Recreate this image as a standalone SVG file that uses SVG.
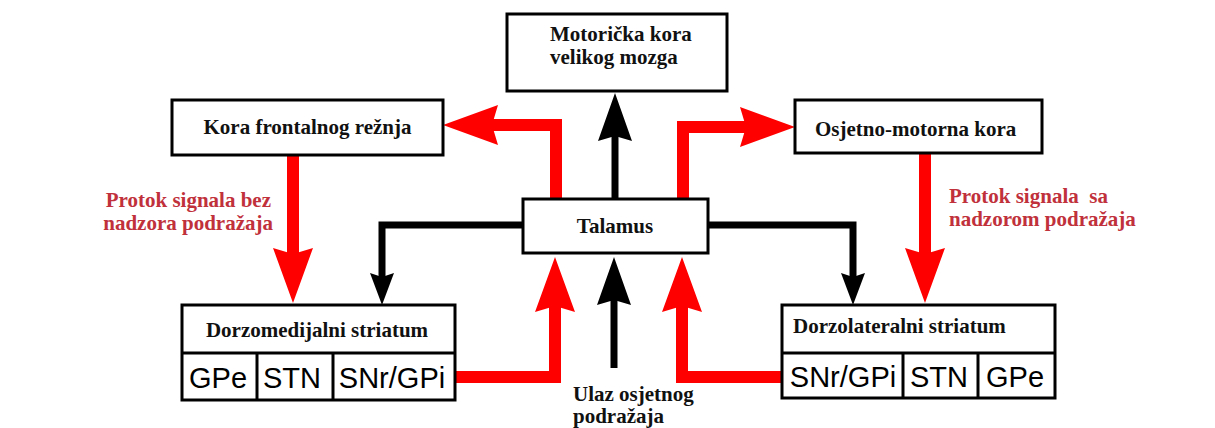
<svg xmlns="http://www.w3.org/2000/svg" width="1215" height="428" viewBox="0 0 1215 428">
<defs>
<style>
.box{fill:#fff;stroke:#000;stroke-width:3}
.t{font-family:"Liberation Serif","Times New Roman",serif;font-weight:bold;font-size:21px;fill:#111}
.c{font-family:"Liberation Sans",Arial,sans-serif;font-size:29px;fill:#000;text-anchor:middle}
.lbl{font-family:"Liberation Serif","Times New Roman",serif;font-weight:bold;font-size:21px;fill:#c0313c}
.red{fill:none;stroke:#ff0000;stroke-width:12}
.blk{fill:none;stroke:#000;stroke-width:7}
</style>
<marker id="rh" viewBox="0 0 55 40" refX="10" refY="20" markerWidth="55" markerHeight="40" markerUnits="userSpaceOnUse" orient="auto">
<path d="M0,0 L55,20 L0,40 L6,20 z" fill="#ff0000"/>
</marker>
<marker id="bh" viewBox="0 0 48 34" refX="8" refY="17" markerWidth="48" markerHeight="34" markerUnits="userSpaceOnUse" orient="auto">
<path d="M0,0 L48,17 L0,34 L5,17 z" fill="#000"/>
</marker>
<marker id="bs" viewBox="0 0 32 24" refX="6" refY="12" markerWidth="32" markerHeight="24" markerUnits="userSpaceOnUse" orient="auto">
<path d="M0,0 L32,12 L0,24 L4,12 z" fill="#000"/>
</marker>
</defs>
<rect width="1215" height="428" fill="#fff"/>

<g id="connectors">
<path class="blk" d="M615,199 V133" marker-end="url(#bh)"/>
<path class="red" d="M556,199 V125 H488" marker-end="url(#rh)"/>
<path class="red" d="M683,199 V127 H750" marker-end="url(#rh)"/>
<path class="blk" d="M523,225 H382 V279" marker-end="url(#bs)"/>
<path class="blk" d="M708,225 H853 V279" marker-end="url(#bs)"/>
<path class="red" d="M293,155 V258" marker-end="url(#rh)"/>
<path class="red" d="M925,153 V258" marker-end="url(#rh)"/>
<path class="red" d="M455,377 H555 V302" marker-end="url(#rh)"/>
<path class="red" d="M782,377 H682 V302" marker-end="url(#rh)"/>
<path class="blk" d="M614,368 V297" marker-end="url(#bh)"/>
</g>

<g id="motoricka">
<rect class="box" x="507" y="14" width="220" height="77"/>
<text class="t" x="550" y="41">Motorička kora</text>
<text class="t" x="550" y="64">velikog mozga</text>
</g>

<g id="frontalni">
<rect class="box" x="172" y="100" width="271" height="55"/>
<text class="t" x="307.5" y="134" text-anchor="middle">Kora frontalnog režnja</text>
</g>

<g id="osjetno">
<rect class="box" x="795" y="100" width="247" height="53"/>
<text class="t" x="815" y="136">Osjetno-motorna kora</text>
</g>

<g id="talamus">
<rect class="box" x="523" y="199" width="185" height="54"/>
<text class="t" x="615" y="233" text-anchor="middle">Talamus</text>
</g>

<g id="dorzomedijalni">
<rect class="box" x="182" y="305" width="273" height="95"/>
<path d="M182,353 H455 M257,353 V400 M333,353 V400" stroke="#000" stroke-width="3" fill="none"/>
<text class="t" x="317" y="337" text-anchor="middle">Dorzomedijalni striatum</text>
<text class="c" x="218" y="388">GPe</text>
<text class="c" x="292" y="388">STN</text>
<text class="c" x="392" y="388">SNr/GPi</text>
</g>

<g id="dorzolateralni">
<rect class="box" x="782" y="305" width="273" height="93"/>
<path d="M782,353 H1055 M903,353 V398 M978,353 V398" stroke="#000" stroke-width="3" fill="none"/>
<text class="t" x="793" y="333">Dorzolateralni striatum</text>
<text class="c" x="843" y="387">SNr/GPi</text>
<text class="c" x="939" y="387">STN</text>
<text class="c" x="1015" y="387">GPe</text>
</g>

<g id="ulaz">
<text class="t" x="573" y="401">Ulaz osjetnog</text>
<text class="t" x="573" y="423">podražaja</text>
</g>

<g id="label-bez">
<text class="lbl" x="271" y="207" text-anchor="end">Protok signala bez</text>
<text class="lbl" x="273" y="230" text-anchor="end">nadzora podražaja</text>
</g>

<g id="label-sa">
<text class="lbl" x="949" y="203" xml:space="preserve">Protok signala  sa</text>
<text class="lbl" x="949" y="226">nadzorom podražaja</text>
</g>
</svg>
